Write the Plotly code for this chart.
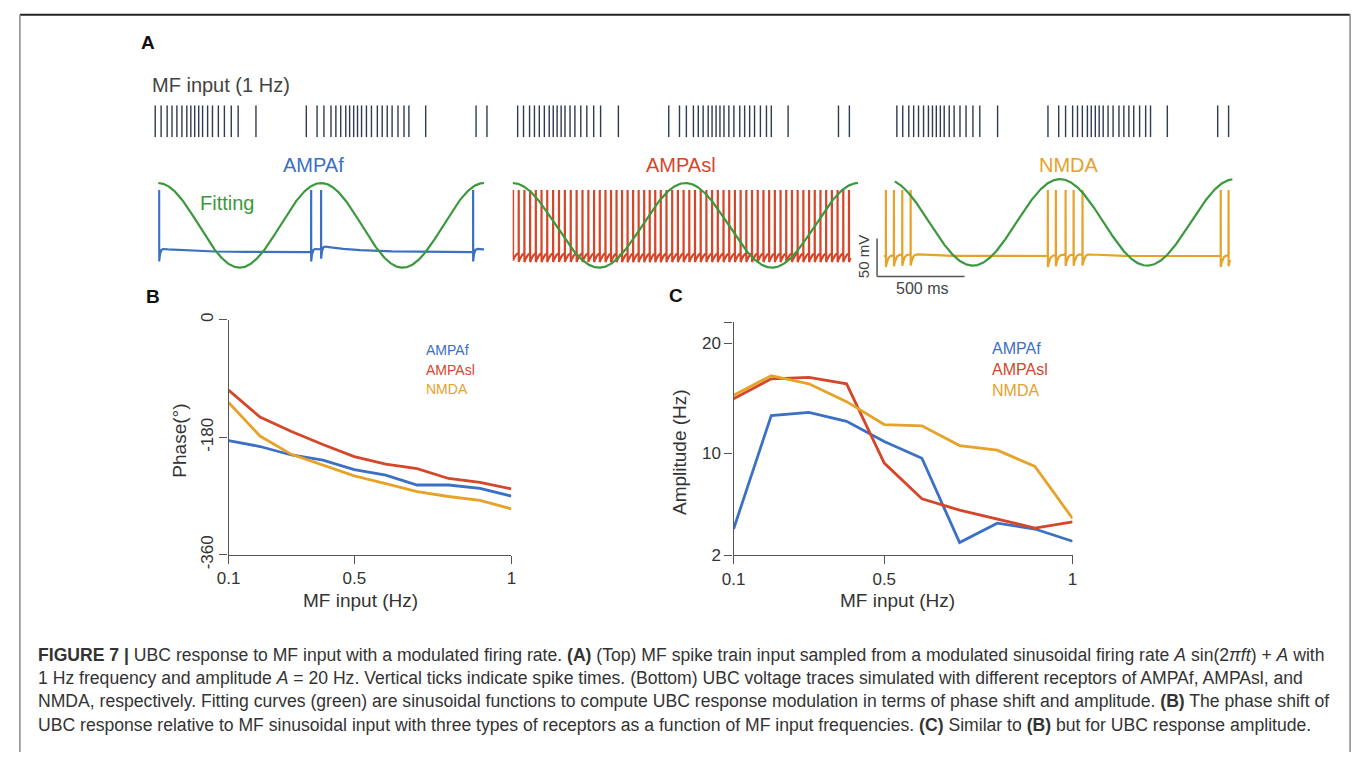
import numpy as np
import plotly.graph_objects as go

W, H = 1363, 766
FONT = "Liberation Sans, Arial, Helvetica, sans-serif"

# ---------------- data ----------------
# MF input spike times (ms) for a 2 s window, repeated above each trace panel
mf_spike_ms = [12, 47, 83, 112, 141, 171, 200, 224, 247, 271, 294, 324, 353, 388, 424, 465, 506, 612,
               912, 976, 1017, 1059, 1088, 1117, 1147, 1170, 1194, 1217, 1241, 1270, 1300, 1335, 1364,
               1394, 1423, 1458, 1494, 1523, 1623, 1923, 1988]

# UBC spike times (ms) per receptor
ampaf_spike_ms = [6, 939, 1000, 1933]
ampasl_spike_ms = [2, 35, 68, 101, 134, 167, 200, 234, 268, 302, 336, 370, 404, 438, 471, 504, 537, 569,
                   601, 633, 665, 697, 729, 761, 793, 825, 857, 890, 923, 956, 989, 1022, 1055, 1088,
                   1121, 1154, 1187, 1220, 1253, 1286, 1319, 1352, 1385, 1418, 1451, 1484, 1517, 1550,
                   1583, 1616, 1649, 1682, 1715, 1748, 1781, 1814, 1847, 1880, 1913, 1946]
nmda_spike_ms = [11, 57, 105, 153, 940, 986, 1042, 1088, 1139, 1932, 1977]

receptors = ["AMPAf", "AMPAsl", "NMDA"]
rec_colors = ["#3b70c4", "#d5462a", "#e6a229"]
fit_color = "#3a993c"

# sinusoidal fit parameters (display units), time of peak (ms), start (ms)
fit_offset = [-19.6, -19.6, -15.7]
fit_amp = [55.8, 55.8, 57.0]
fit_peak_ms = [0, 0, 1010]
fit_start_ms = [0, 0, 62]
fit_period_ms = 1000

# voltage waveform parameters: baseline, AHP depth, AHP tau, rebound, rebound tau, end time
v_base = [-55, -54, -60]
v_ahp = [13, 12, 15]
v_tau = [6, 18, 12]
v_reb = [5, 0, 3]
v_reb_tau = [200, 50, 60]
v_tmax = [2000, 1955, 1985]
SPIKE_PEAK = 27

# B / C
freq_hz = [0.1, 0.2, 0.3, 0.4, 0.5, 0.6, 0.7, 0.8, 0.9, 1.0]
phase_ampaf = [-185, -194, -207, -215, -229.5, -238, -253, -253, -258, -270]
phase_ampasl = [-107.6, -149, -171, -191, -209.5, -221, -228, -243, -249, -259]
phase_nmda = [-126.6, -178, -206, -222, -239, -251, -263, -270.6, -276.6, -289.5]

amp_ampaf = [3.14, 13.44, 13.73, 12.91, 11.09, 9.56, 1.91, 3.67, 3.14, 2.03]
amp_ampasl = [14.97, 16.77, 16.91, 16.32, 9.12, 5.88, 4.85, 4.03, 3.23, 3.79]
amp_nmda = [15.27, 17.06, 16.32, 14.70, 12.62, 12.50, 10.71, 10.29, 8.82, 4.09]

# ---------------- helpers ----------------
def dx(x0, x1):
    return [x0 / W, x1 / W]

def dy(ytop, ybot):
    return [1 - ybot / H, 1 - ytop / H]

def px(x):
    return x / W

def py(y):
    return 1 - y / H

def voltage(spikes, base, ahp, tau, reb, reb_tau, tmax, dt=0.25):
    t = np.arange(0, tmax + dt, dt)
    v = np.full(t.shape, float(base))
    for s in spikes:
        d = t - s
        m = d > 0
        v[m] += -ahp * np.exp(-d[m] / tau) + reb * (1 - np.exp(-d[m] / tau)) * np.exp(-d[m] / reb_tau)
    for s in spikes:
        i = int(round(s / dt))
        if i < len(v):
            v[i] = SPIKE_PEAK
    return t, v

fig = go.Figure()
layout = dict(width=W, height=H, margin=dict(l=0, r=0, t=0, b=0), paper_bgcolor="white",
              plot_bgcolor="rgba(0,0,0,0)", showlegend=False, font=dict(family=FONT, color="#333"))
hidden = dict(visible=False, fixedrange=True)

# raster axes 1..3
raster_dom = [(143, 483), (510, 850), (894, 1234)]
rx, ry = [], []
for t in mf_spike_ms:
    rx += [t, t, None]
    ry += [0, 1, None]
for i, (a, b) in enumerate(raster_dom):
    n = i + 1
    sfx = "" if n == 1 else str(n)
    layout["xaxis" + sfx] = dict(hidden, domain=dx(a, b), range=[0, 2000], anchor="y" + sfx)
    layout["yaxis" + sfx] = dict(hidden, domain=dy(101, 134), range=[0, 1], anchor="x" + sfx)
    fig.add_trace(go.Scatter(x=rx, y=ry, mode="lines", line=dict(color="#2f3b50", width=1.4),
                             xaxis="x" + sfx, yaxis="y" + sfx, hoverinfo="skip"))

# trace axes 4..6
trace_dom = [(148, 478), (507, 857), (883, 1236)]
spikes_all = [ampaf_spike_ms, ampasl_spike_ms, nmda_spike_ms]
for i, (a, b) in enumerate(trace_dom):
    n = i + 4
    sfx = str(n)
    layout["xaxis" + sfx] = dict(hidden, domain=dx(a, b), range=[0, 2000], anchor="y" + sfx)
    layout["yaxis" + sfx] = dict(hidden, domain=dy(175, 280), range=[-90.77, 43.85], anchor="x" + sfx)
    t, v = voltage(spikes_all[i], v_base[i], v_ahp[i], v_tau[i], v_reb[i], v_reb_tau[i], v_tmax[i])
    fig.add_trace(go.Scatter(x=t, y=v, mode="lines", line=dict(color=rec_colors[i], width=2.2),
                             xaxis="x" + sfx, yaxis="y" + sfx, hoverinfo="skip"))
    tf = np.arange(fit_start_ms[i], 2000.5, 2.0)
    yf = fit_offset[i] + fit_amp[i] * np.cos(2 * np.pi * (tf - fit_peak_ms[i]) / fit_period_ms)
    fig.add_trace(go.Scatter(x=tf, y=yf, mode="lines", line=dict(color=fit_color, width=2.2),
                             xaxis="x" + sfx, yaxis="y" + sfx, hoverinfo="skip"))

# panel axes style
axis_common = dict(showline=True, linecolor="#555", linewidth=1.3, ticks="outside", ticklen=8,
                   tickwidth=1.3, tickcolor="#555", showgrid=False, zeroline=False, fixedrange=True,
                   tickfont=dict(family=FONT, size=17, color="#333"))

# B
layout["xaxis7"] = dict(axis_common, domain=dx(219.3, 505.7), range=[0.1, 1.0], anchor="y7",
                        tickvals=[0.1, 0.5, 1.0], ticktext=["0.1", "0.5", "1"])
layout["yaxis7"] = dict(axis_common, domain=dy(321.7, 563.3), range=[-360, 0], anchor="x7",
                        tickvals=[-360, -180, 0], ticktext=["-360", "-180", "0"], tickangle=-90)
for vals, col in zip([phase_ampaf, phase_ampasl, phase_nmda], rec_colors):
    fig.add_trace(go.Scatter(x=freq_hz, y=vals, mode="lines", line=dict(color=col, width=2.8),
                             xaxis="x7", yaxis="y7", hoverinfo="skip"))

# C
c_lo, c_hi = 0.76, 21.89
layout["xaxis8"] = dict(axis_common, domain=dx(730.7, 1074), range=[0.1, 1.0], anchor="y8",
                        tickvals=[0.1, 0.5, 1.0], ticktext=["0.1", "0.5", "1"])
layout["yaxis8"] = dict(axis_common, domain=dy(324.3, 563.7), range=[c_lo, c_hi], anchor="x8",
                        tickvals=[c_lo, 10, 20, c_hi], ticktext=["2", "10", "20", ""])
for vals, col in zip([amp_ampaf, amp_ampasl, amp_nmda], rec_colors):
    fig.add_trace(go.Scatter(x=freq_hz, y=vals, mode="lines", line=dict(color=col, width=2.8),
                             xaxis="x8", yaxis="y8", hoverinfo="skip"))

# ---------------- annotations ----------------
ann = []
def txt(x, y, s, size, color="#333", xanchor="center", yanchor="middle", angle=0, bold=False):
    ann.append(dict(x=px(x), y=py(y), xref="paper", yref="paper", text=("<b>%s</b>" % s) if bold else s,
                    showarrow=False, xanchor=xanchor, yanchor=yanchor, textangle=angle,
                    font=dict(family=FONT, size=size, color=color)))

txt(138, 36, "A", 19, "#111", bold=True)
txt(143, 298, "B", 19, "#111", bold=True)
txt(672, 297, "C", 19, "#111", bold=True)
txt(140, 80, "MF input (1 Hz)", 20, "#444", xanchor="left")
label_x = [305, 677, 1070]
for name, col, x in zip(receptors, rec_colors, label_x):
    txt(x, 162, name, 20, col)
txt(218, 202, "Fitting", 20, fit_color)
txt(863, 257, "50 mV", 15, "#444", angle=-90)
txt(921, 289, "500 ms", 16, "#444")

# B titles and legend
txt(353, 610, "MF input (Hz)", 19, "#333")
txt(170, 446, "Phase(°)", 19, "#333", angle=-90)
for k, (name, col) in enumerate(zip(receptors, rec_colors)):
    txt(417, 353 + 20 * k, name, 14, col, xanchor="left")
# C titles and legend
txt(897, 610, "MF input (Hz)", 19, "#333")
txt(676, 458, "Amplitude (Hz)", 19, "#333", angle=-90)
for k, (name, col) in enumerate(zip(receptors, rec_colors)):
    txt(990, 351 + 21.5 * k, name, 16, col, xanchor="left")

# caption
cap = [
    "<b>FIGURE 7 |</b> UBC response to MF input with a modulated firing rate. <b>(A)</b> (Top) MF spike train input sampled from a modulated sinusoidal firing rate <i>A</i> sin(2<i>πft</i>) + <i>A</i> with",
    "1 Hz frequency and amplitude <i>A</i> = 20 Hz. Vertical ticks indicate spike times. (Bottom) UBC voltage traces simulated with different receptors of AMPAf, AMPAsl, and",
    "NMDA, respectively. Fitting curves (green) are sinusoidal functions to compute UBC response modulation in terms of phase shift and amplitude. <b>(B)</b> The phase shift of",
    "UBC response relative to MF sinusoidal input with three types of receptors as a function of MF input frequencies. <b>(C)</b> Similar to <b>(B)</b> but for UBC response amplitude.",
]
for k, line in enumerate(cap):
    txt(24, 666 + 24 * k, line, 17.6, "#333", xanchor="left")

layout["annotations"] = ann

# scale bar + frame
shapes = [
    dict(type="line", xref="paper", yref="paper", x0=px(876), x1=px(876), y0=py(238), y1=py(277),
         line=dict(color="#555", width=1.5)),
    dict(type="line", xref="paper", yref="paper", x0=px(876), x1=px(964.6), y0=py(277), y1=py(277),
         line=dict(color="#555", width=1.5)),
    dict(type="line", xref="paper", yref="paper", x0=px(8), x1=px(1355), y0=py(8), y1=py(8),
         line=dict(color="#222", width=2)),
    dict(type="line", xref="paper", yref="paper", x0=px(8), x1=px(8), y0=py(8), y1=0,
         line=dict(color="#888", width=1.5)),
    dict(type="line", xref="paper", yref="paper", x0=px(1355), x1=px(1355), y0=py(8), y1=0,
         line=dict(color="#888", width=1.5)),
]
layout["shapes"] = shapes

fig.update_layout(**layout)
fig.write_html("out.html")
